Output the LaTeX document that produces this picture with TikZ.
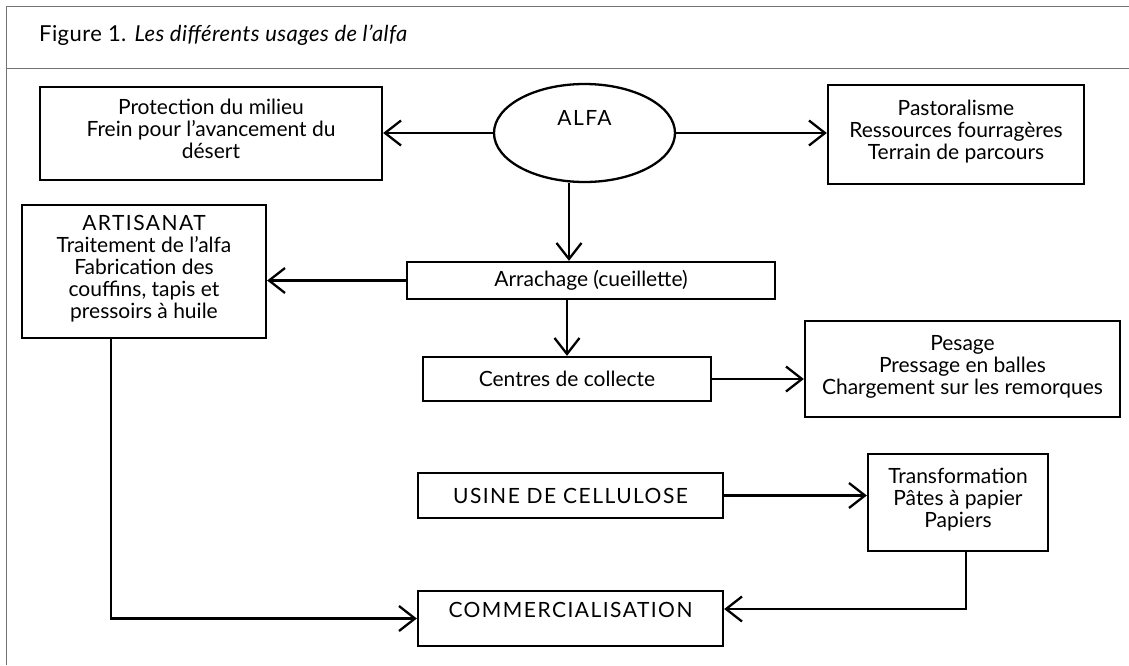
\documentclass[tikz,border=0pt]{standalone}
\usepackage{fontspec}
\setmainfont{Lato}
\usetikzlibrary{shapes.geometric,arrows.meta}
\newcommand{\capsp}{\addfontfeatures{LetterSpace=7}}
\begin{document}
\begin{tikzpicture}[x=1pt,y=-1pt,
  box/.style={draw,line width=2.3pt,rectangle,inner sep=0pt,align=center,
    font=\fontsize{21}{22}\selectfont},
  multi/.style={text depth=9pt},
  conn/.style={line width=2.3pt,-{Straight Barb[length=16pt,width=25pt]}},
  frameline/.style={draw=black!55,line width=0.9pt}]
\useasboundingbox (0,0) rectangle (1129,665);
% frame
\draw[frameline] (1129,6) -- (6,6) -- (6,665);
\draw[frameline] (6,68) -- (1129,68);
\node[anchor=base west,inner sep=0pt,font=\fontsize{22}{26}\selectfont\addfontfeatures{LetterSpace=2}] (title) at (39,41)
  {Figure 1. \textit{Les différents usages de l’alfa}};
% nodes
\node[ellipse,draw,line width=2.3pt,inner sep=0pt,minimum width=181pt,minimum height=98pt,
  font=\fontsize{21}{22}\selectfont\capsp,text height=15pt,text depth=30pt] (alfa) at (584.5,133) {ALFA};
\node[box,multi,minimum width=342pt,minimum height=93pt] (prot) at (211,133.5)
  {Protection du milieu\\Frein pour l’avancement du\\désert};
\node[box,multi,minimum width=256pt,minimum height=99pt] (past) at (956,134.5)
  {Pastoralisme\\Ressources fourragères\\Terrain de parcours};
\node[box,multi,minimum width=244pt,minimum height=133pt] (art) at (144,271.5)
  {{\capsp ARTISANAT}\\Traitement de l’alfa\\Fabrication des\\couffins, tapis et\\pressoirs à huile};
\node[box,minimum width=368pt,minimum height=37pt] (arr) at (591,280.5) {Arrachage (cueillette)};
\node[box,minimum width=288pt,minimum height=44pt] (cen) at (567,379) {Centres de collecte};
\node[box,multi,minimum width=315pt,minimum height=96pt] (pes) at (962.5,369)
  {Pesage\\Pressage en balles\\Chargement sur les remorques};
\node[box,minimum width=305pt,minimum height=45pt] (usi) at (570.5,495.5) {\capsp USINE DE CELLULOSE};
\node[box,multi,minimum width=180pt,minimum height=97pt] (tra) at (958,502.5)
  {Transformation\\Pâtes à papier\\Papiers};
\node[box,minimum width=305pt,minimum height=55pt,text height=15pt,text depth=17pt] (com) at (570.5,618.5)
  {\capsp COMMERCIALISATION};
% connectors
\draw[conn] (alfa.west) -- (alfa.west -| prot.east);
\draw[conn] (alfa.east) -- (alfa.east -| past.west);
\draw[conn] ([xshift=-15.5pt]alfa.south) -- ([xshift=-15.5pt]alfa.south |- arr.north);
\draw[conn] (arr.west) -- (arr.west -| art.east);
\draw[conn] (arr.south -| cen.north) -- (cen.north);
\draw[conn] (cen.east) -- (cen.east -| pes.west);
\draw[conn] (usi.east) -- (usi.east -| tra.west);
\draw[conn] ([xshift=8pt]tra.south) |- ([yshift=9.5pt]com.east);
\draw[conn] ([xshift=-33pt]art.south) |- (com.west);
\end{tikzpicture}
\end{document}
